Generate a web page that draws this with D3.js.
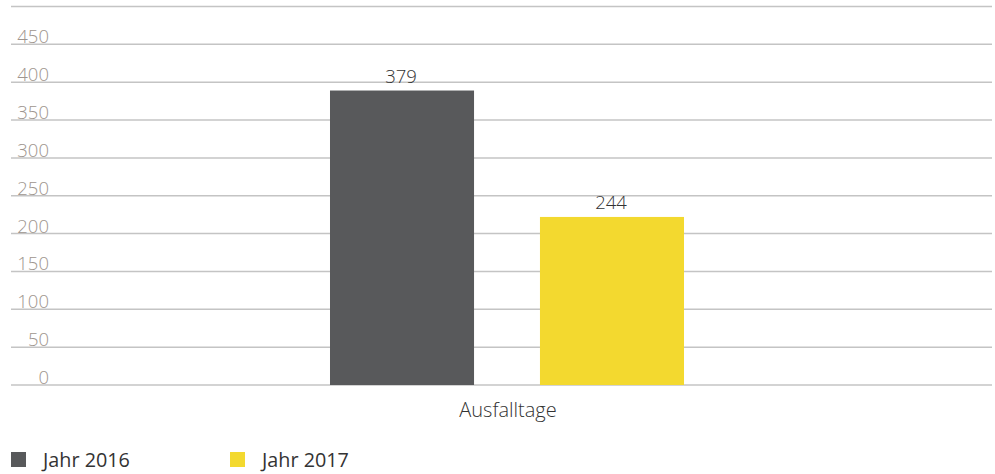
<!DOCTYPE html>
<html>
<head>
<meta charset="utf-8">
<script src="https://cdn.jsdelivr.net/npm/d3@7"></script>
<style>
  body { margin: 0; background: #fff; }
  svg { display: block; font-family: 'Open Sans', sans-serif; }
</style>
</head>
<body>
<svg id="chart" width="995" height="474"></svg>
<script>
// data
const categories = ['Ausfalltage'];
const series = ['Jahr 2016', 'Jahr 2017'];
const barValues = [389, 222];      // bar heights as drawn
const valueLabels = ['379', '244']; // printed labels
const yTicks = [0, 50, 100, 150, 200, 250, 300, 350, 400, 450];
const yMax = 500;

const colors = ['#58595b', '#f3d92f'];

const svg = d3.select('#chart');

const y = d3.scaleLinear().domain([0, yMax]).range([385, 6.5]);

const x0 = d3.scaleBand()
  .domain(categories)
  .range([22, 992])
  .paddingInner(0)
  .paddingOuter(0.87);

const x1 = d3.scaleBand()
  .domain(series)
  .range([0, x0.bandwidth()])
  .paddingInner(0.314);

// gridlines (incl. top line at max)
svg.append('g')
  .selectAll('line')
  .data(d3.range(0, yMax + 1, 50))
  .join('line')
  .attr('x1', 11)
  .attr('x2', 992)
  .attr('y1', d => y(d))
  .attr('y2', d => y(d))
  .attr('stroke', '#c4c4c4')
  .attr('stroke-width', 1.5);

// y tick labels
svg.append('g')
  .selectAll('text')
  .data(yTicks)
  .join('text')
  .attr('x', 49)
  .attr('y', d => y(d) - 1)
  .attr('text-anchor', 'end')
  .attr('fill', '#9e958e')
  .attr('font-size', 18.5)
  .attr('font-weight', 300)
  .text(d => d);

// bars
const g = svg.append('g')
  .attr('transform', `translate(${x0(categories[0])},0)`);

g.selectAll('rect')
  .data(series)
  .join('rect')
  .attr('x', d => x1(d))
  .attr('y', (d, i) => y(barValues[i]))
  .attr('width', x1.bandwidth())
  .attr('height', (d, i) => y(0) - y(barValues[i]))
  .attr('fill', (d, i) => colors[i]);

g.selectAll('text.val')
  .data(series)
  .join('text')
  .attr('class', 'val')
  .attr('x', d => x1(d) + x1.bandwidth() / 2 - 1)
  .attr('y', (d, i) => y(barValues[i]) - 7.5)
  .attr('text-anchor', 'middle')
  .attr('fill', '#333')
  .attr('font-size', 18.5)
  .attr('font-weight', 300)
  .text((d, i) => valueLabels[i]);

// category label
svg.append('text')
  .attr('x', x0(categories[0]) + x0.bandwidth() / 2 + 1)
  .attr('y', 417)
  .attr('text-anchor', 'middle')
  .attr('fill', '#333')
  .attr('font-size', 20)
  .attr('font-weight', 300)
  .text(categories[0]);

// legend
const legend = svg.append('g')
  .selectAll('g')
  .data(series)
  .join('g')
  .attr('transform', (d, i) => `translate(${11 + i * 219},452)`);

legend.append('rect')
  .attr('width', 15)
  .attr('height', 15)
  .attr('fill', (d, i) => colors[i]);

legend.append('text')
  .attr('x', 32)
  .attr('y', 15)
  .attr('fill', '#333')
  .attr('font-size', 19.8)
  .text(d => d);
</script>
</body>
</html>
